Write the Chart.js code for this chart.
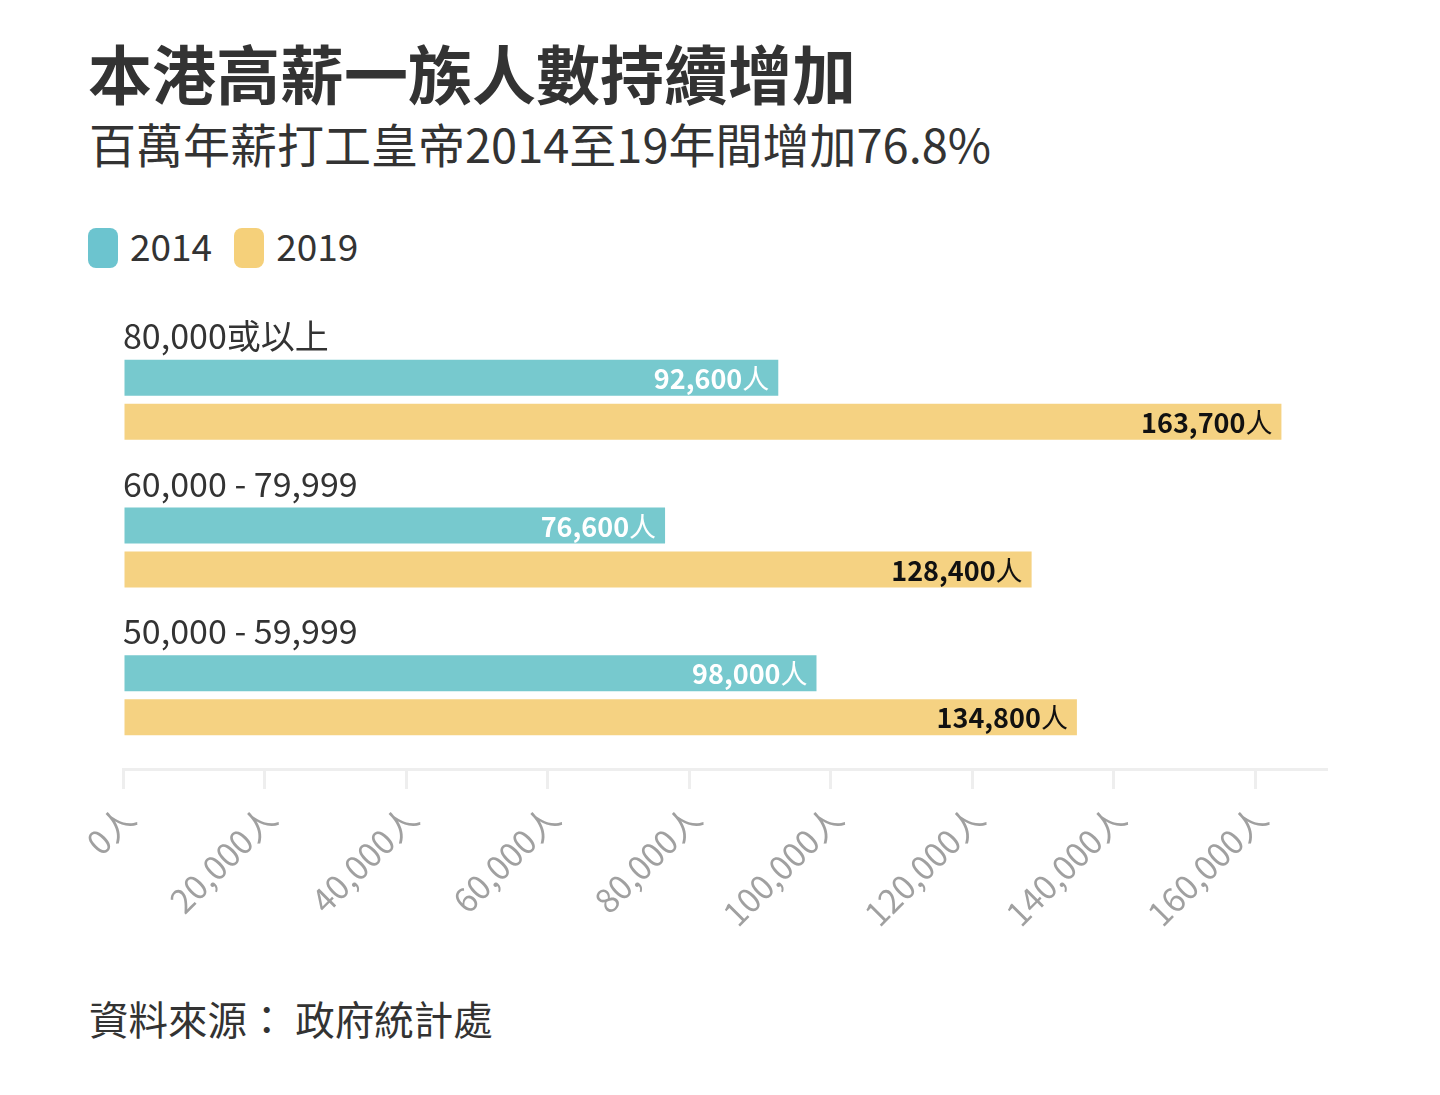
<!DOCTYPE html>
<html>
<head>
<meta charset="utf-8">
<script src="https://cdn.jsdelivr.net/npm/chart.js@4"></script>
<style>
  html, body { margin: 0; padding: 0; background: #fff; }
  body { width: 1440px; height: 1095px; position: relative; overflow: hidden;
         font-family: 'Noto Sans CJK TC', 'Noto Sans', sans-serif; color: #333; }
  #title { position: absolute; left: 88px; top: 39px; font-size: 64px; font-weight: 700; line-height: 1; white-space: nowrap; }
  #subtitle { position: absolute; left: 89px; top: 119px; font-size: 47px; font-weight: 400; line-height: 1; white-space: nowrap; }
  #legend { position: absolute; left: 88px; top: 228px; display: flex; align-items: center; }
  .lg-item { display: flex; align-items: center; margin-right: 22px; }
  .lg-box { width: 30px; height: 40px; border-radius: 8px; margin-right: 12px; }
  .lg-text { font-size: 37px; line-height: 40px; position: relative; top: -3px; }
  #source { position: absolute; left: 89px; top: 998px; font-size: 39.5px; line-height: 1; white-space: pre; }
  canvas { position: absolute; left: 0; top: 0; }
</style>
</head>
<body>
<div id="title"></div>
<div id="subtitle"></div>
<div id="legend"></div>
<div id="source"></div>
<canvas id="c" width="1440" height="1095"></canvas>
<script>
const titleText = '本港高薪一族人數持續增加';
const subtitleText = '百萬年薪打工皇帝2014至19年間增加76.8%';
const sourceText = '資料來源： 政府統計處';
const categories = ['80,000或以上', '60,000 - 79,999', '50,000 - 59,999'];
const seriesNames = ['2014', '2019'];
const values2014 = [92600, 76600, 98000];
const values2019 = [163700, 128400, 134800];
const tickValues = [0, 20000, 40000, 60000, 80000, 100000, 120000, 140000, 160000];
const axisMax = 170000;
const unit = '人';
const colors = ['#77C9CE', '#F5D282'];
const legendColors = ['#6CC4CF', '#F5D07A'];
const labelColors = ['#ffffff', '#111111'];

const FONT = "'Noto Sans CJK TC', 'Noto Sans', sans-serif";

document.getElementById('title').textContent = titleText;
document.getElementById('subtitle').textContent = subtitleText;
document.getElementById('source').textContent = sourceText;
const lg = document.getElementById('legend');
seriesNames.forEach((n, i) => {
  const it = document.createElement('div'); it.className = 'lg-item';
  const b = document.createElement('div'); b.className = 'lg-box'; b.style.background = legendColors[i];
  const t = document.createElement('div'); t.className = 'lg-text'; t.textContent = n;
  it.appendChild(b); it.appendChild(t); lg.appendChild(it);
});

const fmt = v => v.toLocaleString('en-US');

const labelPlugin = {
  id: 'labels',
  afterDatasetsDraw(chart) {
    const ctx = chart.ctx;
    const yScale = chart.scales.y;
    ctx.save();
    ctx.fillStyle = '#333';
    ctx.font = '400 34px ' + FONT;
    ctx.textAlign = 'left';
    ctx.textBaseline = 'alphabetic';
    categories.forEach((c, i) => {
      const y = yScale.getPixelForValue(i) - 51;
      ctx.fillText(c, chart.chartArea.left, y);
    });
    chart.data.datasets.forEach((ds, di) => {
      const meta = chart.getDatasetMeta(di);
      meta.data.forEach((bar, i) => {
        const v = ds.data[i];
        const xEnd = bar.x - 9;
        const y = bar.y + 1;
        ctx.fillStyle = labelColors[di];
        ctx.textBaseline = 'middle';
        ctx.textAlign = 'right';
        ctx.font = '400 27px ' + FONT;
        const uw = ctx.measureText(unit).width;
        ctx.fillText(unit, xEnd, y);
        ctx.font = '700 27px ' + FONT;
        ctx.fillText(fmt(v), xEnd - uw, y);
      });
    });
    ctx.restore();
  }
};

new Chart(document.getElementById('c'), {
  type: 'bar',
  data: {
    labels: categories,
    datasets: [
      { label: seriesNames[0], data: values2014, backgroundColor: colors[0], borderWidth: 0,
        categoryPercentage: 0.596, barPercentage: 0.818 },
      { label: seriesNames[1], data: values2019, backgroundColor: colors[1], borderWidth: 0,
        categoryPercentage: 0.596, barPercentage: 0.818 }
    ]
  },
  options: {
    indexAxis: 'y',
    responsive: false,
    devicePixelRatio: 1,
    animation: false,
    layout: { padding: { left: 123, right: 114, top: 326, bottom: 146 } },
    plugins: { legend: { display: false }, tooltip: { enabled: false } },
    scales: {
      y: { display: false },
      x: {
        min: 0, max: axisMax,
        afterFit(scale) { scale.height = 180; },
        afterBuildTicks(scale) { scale.ticks = tickValues.map(v => ({ value: v })); },
        grid: { display: true, drawOnChartArea: false, drawTicks: true, tickLength: 20, color: '#eeeeee', lineWidth: 3 },
        border: { display: true, color: '#eeeeee', width: 3 },
        ticks: {
          minRotation: 45, maxRotation: 45, autoSkip: false, padding: 9, labelOffset: 6,
          color: '#a0a0a0', font: { family: FONT, size: 33 },
          callback: v => fmt(v) + unit
        }
      }
    }
  },
  plugins: [labelPlugin]
});
</script>
</body>
</html>
